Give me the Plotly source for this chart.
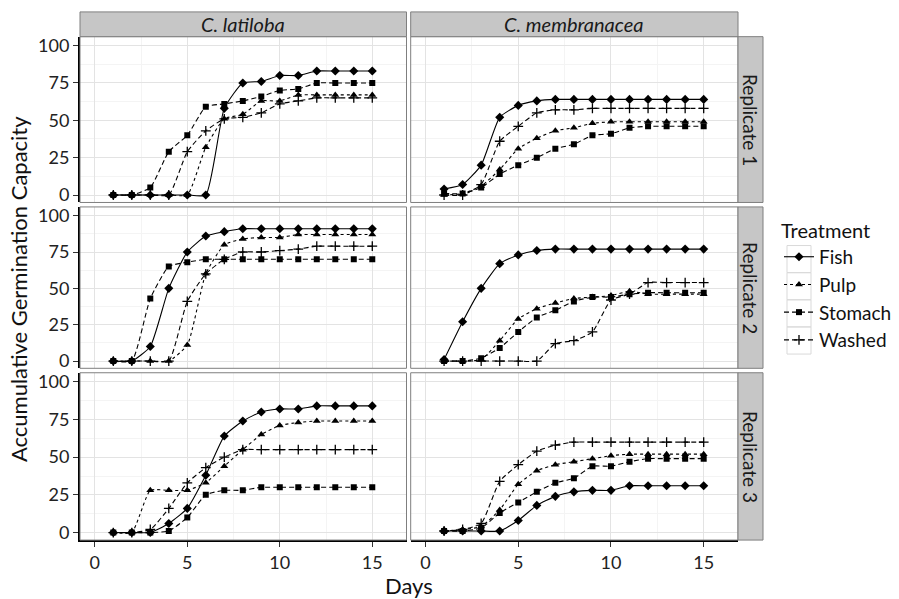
import plotly.graph_objects as go

W, H = 899, 599

days = list(range(1, 16))
species = ["C. latiloba", "C. membranacea"]
replicates = ["Replicate 1", "Replicate 2", "Replicate 3"]
treatments = ["Fish", "Pulp", "Stomach", "Washed"]

# C. latiloba
lat_r1_fish = [0, 0, 0, 0, 0, 0, 58, 75, 76, 80, 80, 83, 83, 83, 83]
lat_r1_pulp = [0, 0, 0, 0, 0, 32, 51, 54, 63, 63, 67, 67, 67, 67, 67]
lat_r1_stomach = [0, 0, 5, 29, 40, 59, 61, 63, 66, 70, 71, 75, 75, 75, 75]
lat_r1_washed = [0, 0, 0, 0, 29, 43, 51, 52, 55, 61, 63, 65, 65, 65, 65]

lat_r2_fish = [0, 0, 10, 50, 75, 86, 89, 91, 91, 91, 91, 91, 91, 91, 91]
lat_r2_pulp = [0, 0, 0, 0, 11, 60, 80, 84, 85, 85, 87, 87, 87, 87, 87]
lat_r2_stomach = [0, 0, 43, 65, 68, 70, 70, 70, 70, 70, 70, 70, 70, 70, 70]
lat_r2_washed = [0, 0, 0, 0, 41, 60, 70, 75, 75, 76, 77, 79, 79, 79, 79]

lat_r3_fish = [0, 0, 0, 6, 16, 38, 64, 74, 80, 82, 82, 84, 84, 84, 84]
lat_r3_pulp = [0, 0, 28, 28, 28, 33, 44, 55, 65, 71, 73, 74, 74, 74, 74]
lat_r3_stomach = [0, 0, 0, 1, 10, 25, 28, 28, 30, 30, 30, 30, 30, 30, 30]
lat_r3_washed = [0, 0, 2, 16, 33, 43, 50, 55, 55, 55, 55, 55, 55, 55, 55]

# C. membranacea
mem_r1_fish = [4, 7, 20, 52, 60, 63, 64, 64, 64, 64, 64, 64, 64, 64, 64]
mem_r1_pulp = [0, 1, 6, 17, 31, 38, 43, 45, 48, 49, 49, 49, 49, 49, 49]
mem_r1_stomach = [1, 1, 5, 14, 20, 25, 31, 34, 40, 41, 45, 46, 46, 46, 46]
mem_r1_washed = [0, 0, 7, 36, 46, 55, 57, 57, 58, 58, 58, 58, 58, 58, 58]

mem_r2_fish = [1, 27, 50, 67, 73, 76, 77, 77, 77, 77, 77, 77, 77, 77, 77]
mem_r2_pulp = [0, 0, 1, 14, 29, 36, 40, 43, 44, 45, 48, 46, 46, 46, 46]
mem_r2_stomach = [0, 0, 2, 9, 20, 30, 35, 41, 44, 44, 46, 47, 47, 47, 47]
mem_r2_washed = [0, 0, 0, 0, 0, 0, 12, 14, 20, 42, 46, 54, 54, 54, 54]

mem_r3_fish = [1, 1, 1, 1, 8, 18, 24, 27, 28, 28, 31, 31, 31, 31, 31]
mem_r3_pulp = [1, 2, 4, 15, 32, 41, 45, 47, 49, 51, 52, 52, 52, 52, 52]
mem_r3_stomach = [1, 1, 3, 13, 20, 27, 33, 36, 44, 44, 47, 49, 49, 49, 49]
mem_r3_washed = [1, 2, 6, 34, 45, 54, 58, 60, 60, 60, 60, 60, 60, 60, 60]

x_ticks = [0, 5, 10, 15]
y_ticks = [0, 25, 50, 75, 100]

panels = {
    (0, 0): [lat_r1_fish, lat_r1_pulp, lat_r1_stomach, lat_r1_washed],
    (0, 1): [mem_r1_fish, mem_r1_pulp, mem_r1_stomach, mem_r1_washed],
    (1, 0): [lat_r2_fish, lat_r2_pulp, lat_r2_stomach, lat_r2_washed],
    (1, 1): [mem_r2_fish, mem_r2_pulp, mem_r2_stomach, mem_r2_washed],
    (2, 0): [lat_r3_fish, lat_r3_pulp, lat_r3_stomach, lat_r3_washed],
    (2, 1): [mem_r3_fish, mem_r3_pulp, mem_r3_stomach, mem_r3_washed],
}

styles = {
    "Fish": dict(dash="solid", symbol="diamond", size=7),
    "Pulp": dict(dash="dot", symbol="triangle-up", size=7),
    "Stomach": dict(dash="5px,3px", symbol="square", size=6),
    "Washed": dict(dash="5px,3px", symbol="cross-thin", size=7),
}

# panel pixel geometry
col_x = [(80, 406.5), (410.7, 738)]
row_y = [(34, 201.5), (206, 369), (373.5, 542.5)]
strip_top = (9, 34)
strip_right = (738, 763)

def px(x):
    return x / W

def py(y):
    return 1 - y / H

FONT = "Lato, 'Open Sans', sans-serif"
fig = go.Figure()
layout_axes = {}
shapes = []
annotations = []

for (r, c), series in panels.items():
    idx = r * 2 + c + 1
    xa = "x" if idx == 1 else f"x{idx}"
    ya = "y" if idx == 1 else f"y{idx}"
    for t, vals in zip(treatments, series):
        st = styles[t]
        fig.add_trace(go.Scatter(
            x=days, y=vals, xaxis=xa, yaxis=ya, name=t,
            legendgroup=t, showlegend=(idx == 1),
            mode="lines+markers",
            line=dict(color="black", width=1.1, dash=st["dash"], shape="spline", smoothing=0.5),
            marker=dict(symbol=st["symbol"], size=st["size"], color="black",
                        line=dict(color="black", width=1.3 if t == "Washed" else 0)),
        ))
    x0, x1 = col_x[c]
    y0, y1 = row_y[r]
    bottom = (r == 2)
    left = (c == 0)
    layout_axes[f"xaxis{idx if idx > 1 else ''}"] = dict(
        domain=[px(x0), px(x1)], anchor=ya, range=[-0.8, 16.85],
        tickvals=x_ticks, showticklabels=bottom,
        ticks="outside" if bottom else "", ticklen=5, tickcolor="#333", tickwidth=1,
        showline=bottom, linecolor="black", linewidth=2,
        showgrid=True, gridcolor="#e3e3e3", gridwidth=1, zeroline=False,
        minor=dict(showgrid=True, gridcolor="#f4f4f4", gridwidth=1, tickvals=[2.5, 7.5, 12.5]),
        tickfont=dict(size=18, color="#222", family=FONT),
    )
    layout_axes[f"yaxis{idx if idx > 1 else ''}"] = dict(
        domain=[py(y1), py(y0)], anchor=xa, range=[-5, 106],
        tickvals=y_ticks, showticklabels=left,
        ticks="outside" if left else "", ticklen=5, tickcolor="#333", tickwidth=1,
        showline=left, linecolor="black", linewidth=2,
        showgrid=True, gridcolor="#e3e3e3", gridwidth=1, zeroline=False,
        minor=dict(showgrid=True, gridcolor="#f4f4f4", gridwidth=1, tickvals=[12.5, 37.5, 62.5, 87.5]),
        tickfont=dict(size=18, color="#222", family=FONT),
    )
    shapes.append(dict(type="rect", xref="paper", yref="paper",
                       x0=px(x0), x1=px(x1), y0=py(y1), y1=py(y0),
                       line=dict(color="#7f7f7f", width=1), layer="above"))

for c, name in enumerate(species):
    x0, x1 = col_x[c]
    shapes.append(dict(type="rect", xref="paper", yref="paper",
                       x0=px(x0), x1=px(x1), y0=py(strip_top[1]), y1=py(strip_top[0]),
                       fillcolor="#c6c6c6", line=dict(color="#7f7f7f", width=1)))
    annotations.append(dict(text=f"<i>{name}</i>", xref="paper", yref="paper",
                            x=px((x0 + x1) / 2), y=py((strip_top[0] + strip_top[1]) / 2),
                            showarrow=False, font=dict(size=20, color="#1a1a1a", family=FONT),
                            xanchor="center", yanchor="middle"))
for r, name in enumerate(replicates):
    y0, y1 = row_y[r]
    shapes.append(dict(type="rect", xref="paper", yref="paper",
                       x0=px(strip_right[0]), x1=px(strip_right[1]), y0=py(y1), y1=py(y0),
                       fillcolor="#c6c6c6", line=dict(color="#7f7f7f", width=1)))
    annotations.append(dict(text=name, xref="paper", yref="paper",
                            x=px((strip_right[0] + strip_right[1]) / 2), y=py((y0 + y1) / 2),
                            showarrow=False, textangle=90,
                            font=dict(size=19, color="#1a1a1a", family=FONT),
                            xanchor="center", yanchor="middle"))

# legend key boxes
for i in range(4):
    ky0 = 245 + i * 27.4
    shapes.append(dict(type="rect", xref="paper", yref="paper",
                       x0=px(787), x1=px(811), y0=py(ky0 + 27.4), y1=py(ky0),
                       line=dict(color="#d9d9d9", width=1), layer="below"))

annotations.append(dict(text="Days", xref="paper", yref="paper", x=px(409), y=py(588),
                        showarrow=False, font=dict(size=22, color="#111", family=FONT),
                        xanchor="center", yanchor="middle"))
annotations.append(dict(text="Accumulative Germination Capacity", xref="paper", yref="paper",
                        x=px(18), y=py(289), showarrow=False, textangle=-90,
                        font=dict(size=22, color="#111", family=FONT),
                        xanchor="center", yanchor="middle"))

fig.update_layout(
    width=W, height=H,
    margin=dict(l=0, r=0, t=0, b=0),
    paper_bgcolor="white", plot_bgcolor="white",
    shapes=shapes, annotations=annotations,
    legend=dict(
        title=dict(text="Treatment", font=dict(size=20, color="#111", family=FONT)),
        x=px(779), y=py(211), xanchor="left", yanchor="top",
        font=dict(size=19, color="#111", family=FONT),
        tracegroupgap=0, itemwidth=30, bgcolor="rgba(0,0,0,0)",
    ),
    **layout_axes,
)

fig.write_html("out.html", config={"displayModeBar": False},
               post_script="document.body.style.margin='0';document.body.style.overflow='hidden';")
